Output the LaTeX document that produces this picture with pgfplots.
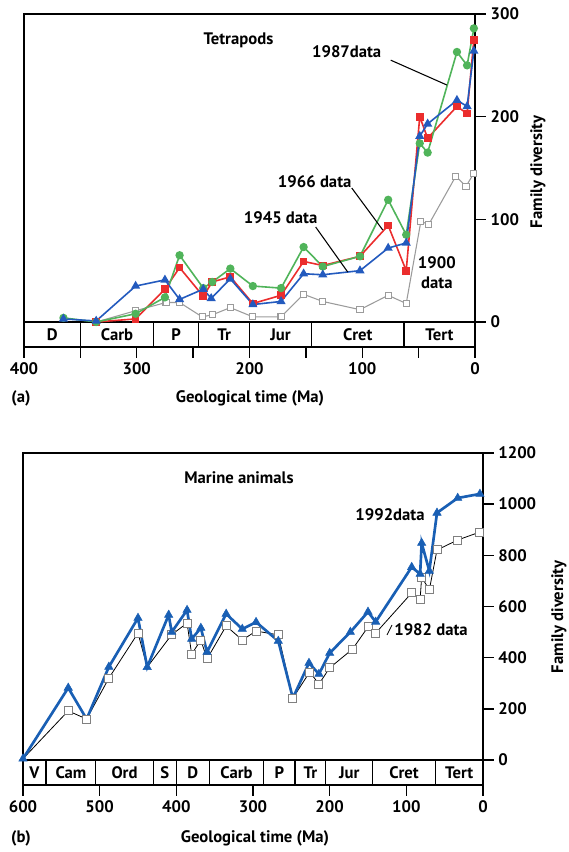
\documentclass[border=0pt]{standalone}
\usepackage{fontspec}
\setmainfont{PT Sans}
\usepackage{pgfplots}
\pgfplotsset{compat=1.18}
\definecolor{cgreen}{RGB}{80,180,90}
\definecolor{cred}{RGB}{235,45,45}
\definecolor{cblue}{RGB}{35,90,190}
\definecolor{mblue}{RGB}{25,95,180}
\definecolor{cgray}{RGB}{155,155,155}
\pgfplotsset{geo/.style={scale only axis, x dir=reverse, clip=false,
  xtick pos=bottom, ytick pos=right, yticklabel pos=right, tick align=outside,
  axis line style={line width=1pt}, tick style={black,line width=1pt},
  /pgf/number format/assume math mode=true, /pgf/number format/1000 sep={},
  tick label style={font=\bfseries\fontsize{12.5}{15}\selectfont}}}
\begin{document}
\begin{tikzpicture}[x=0.75pt,y=0.75pt, font=\bfseries\fontsize{12.5}{15}\selectfont]
\path[use as bounding box] (0,0) rectangle (568,852);

% ---------------- (a) Tetrapods ----------------
\begin{axis}[geo, at={(18pt,378.75pt)}, anchor=south west, width=338.25pt, height=249.75pt,
  xmin=0, xmax=400, ymin=-24.35, ymax=300,
  xtick={0,100,200,300,400}, minor xtick={50,150,250,350}, ytick={0,100,200,300},
  major tick length=8.25pt, minor tick length=8.25pt]
\draw[line width=1pt] (axis cs:400,0) -- (axis cs:0,0);
\pgfplotsinvokeforeach{350,285,245,200,145,63}{\draw[line width=1pt] (axis cs:#1,0) -- (axis cs:#1,-24.35);}
\node at (axis cs:375,-12.2) {D};
\node at (axis cs:317.5,-12.2) {Carb};
\node at (axis cs:265,-12.2) {P};
\node at (axis cs:222.5,-12.2) {Tr};
\node at (axis cs:172.5,-12.2) {Jur};
\node at (axis cs:104,-12.2) {Cret};
\node at (axis cs:31.5,-12.2) {Tert};

\addplot[cgray, line width=0.8pt, mark=square*, mark size=2.3pt, mark options={solid, fill=white, draw=cgray, line width=0.8pt}] coordinates {
(336,0) (301,11) (274,19) (262,19) (242,5) (233,7) (217,14) (197,5) (172,5) (152,27) (135,20) (102,12) (77,26) (61,18) (48,98) (41,95) (17,142) (8,132) (1,145)};
\addplot[cred, line width=1.2pt, mark=square*, mark size=2.3pt, mark options={solid}] coordinates {
(336,0) (301,3) (275,32) (262,53) (241,25) (233,39) (217,44) (197,18) (172,26) (152,59) (135,55) (102,64) (77,94) (61,50) (49,200) (42,179) (16,210) (7,203) (1,275)};
\addplot[cgreen, line width=1.2pt, mark=*, mark size=2.5pt, mark options={solid}] coordinates {
(365,4) (336,0) (301,8) (275,24) (262,65) (241,33) (233,39) (217,52) (197,35) (172,33) (152,73) (135,54) (102,64) (77,119) (61,85) (49,174) (42,165) (16,263) (7,250) (1,286)};
\addplot[cblue, line width=1.2pt, mark=triangle*, mark size=2.8pt, mark options={solid}] coordinates {
(365,3) (336,1) (301,35) (275,41) (262,22) (241,32) (234,23) (217,42) (197,17) (172,20) (152,47) (135,46) (102,50) (77,72) (61,77) (49,181) (42,193) (16,216) (7,210) (1,264)};

\node at (axis cs:209.8,274.6) {Tetrapods};
\node at (axis cs:113.8,263) {1987data};
\draw[line width=0.8pt] (axis cs:74.7,255) -- (axis cs:24.9,230.8);
\node at (axis cs:142.2,136.3) {1966 data};
\draw[line width=0.8pt] (axis cs:109.3,130.5) -- (axis cs:81.8,89.6);
\node at (axis cs:172.4,101.3) {1945 data};
\draw[line width=0.8pt] (axis cs:141.3,92.5) -- (axis cs:112.9,48.7);
\node[align=center] at (axis cs:33.8,48.2) {1900\\data};
\end{axis}

% ---------------- (b) Marine animals ----------------
\begin{axis}[geo, at={(17.25pt,50.25pt)}, anchor=south west, width=345pt, height=249pt,
  xmin=0, xmax=600, ymin=-97.7, ymax=1200,
  xtick={0,100,200,300,400,500,600}, ytick={0,200,400,600,800,1000,1200},
  major tick length=8pt]
\draw[line width=1pt] (axis cs:600,0) -- (axis cs:0,0);
\pgfplotsinvokeforeach{570,505,430,400,357,286,245,205,144,62}{\draw[line width=1pt] (axis cs:#1,0) -- (axis cs:#1,-97.7);}
\node at (axis cs:585,-48.8) {V};
\node at (axis cs:537.5,-48.8) {Cam};
\node at (axis cs:467.5,-48.8) {Ord};
\node at (axis cs:415,-48.8) {S};
\node at (axis cs:378.5,-48.8) {D};
\node at (axis cs:321.5,-48.8) {Carb};
\node at (axis cs:265.5,-48.8) {P};
\node at (axis cs:225,-48.8) {Tr};
\node at (axis cs:174.5,-48.8) {Jur};
\node at (axis cs:103,-48.8) {Cret};
\node at (axis cs:31,-48.8) {Tert};

\addplot[black, line width=0.6pt, no marks] coordinates {
(600,5) (541,192) (517,160) (488,320) (450,496) (438,363) (406,490) (386,535) (380,414) (368,469) (360,395) (335,524) (314,469) (296,504) (267,489) (248,242) (226,344) (214,297) (200,360) (170,434) (150,520) (140,496) (93,653) (82,629) (80,715) (70,665) (60,821) (33,860) (4,891)};
\addplot[mblue, line width=2pt, no marks] coordinates {
(600,5) (541,282) (517,160) (488,364) (450,555) (438,363) (410,567) (406,500) (386,586) (380,473) (368,516) (360,422) (335,571) (314,512) (296,539) (267,465) (248,242) (227,379) (214,336) (200,418) (173,500) (150,579) (140,540) (93,754) (82,727) (80,848) (70,739) (60,966) (33,1024) (4,1040)};
\addplot[only marks, mark=square*, mark size=3pt, mark options={fill=white, draw=gray, line width=0.7pt}] coordinates {
(541,192) (517,160) (488,320) (450,496) (406,490) (386,535) (380,414) (368,469) (360,395) (335,524) (314,469) (296,504) (267,489) (248,242) (226,344) (214,297) (200,360) (170,434) (150,520) (140,496) (93,653) (82,629) (80,715) (70,665) (60,821) (33,860) (4,891)};
\addplot[only marks, mark=triangle*, mark size=3.6pt, mark options={fill=mblue, draw=mblue}] coordinates {
(600,5) (541,282) (488,364) (450,555) (438,363) (410,567) (406,500) (386,586) (380,473) (368,516) (360,422) (335,571) (314,512) (296,539) (267,465) (227,379) (214,336) (200,418) (173,500) (150,579) (140,540) (93,754) (82,727) (80,848) (70,739) (60,966) (33,1024) (4,1040)};

\node at (axis cs:318.3,1102) {Marine animals};
\node at (axis cs:121.3,958) {1992data};
\node at (axis cs:67.8,508) {1982 data};
\draw[line width=0.6pt] (axis cs:125.2,488.7) -- (axis cs:118.7,527.8);
\end{axis}

\node at (250,454) {Geological time (Ma)};
\node at (21,454) {(a)};
\node at (255,14) {Geological time (Ma)};
\node at (21,14) {(b)};
\node[rotate=90] at (538,680) {Family diversity};
\node[rotate=90] at (559,235) {Family diversity};
\end{tikzpicture}
\end{document}
